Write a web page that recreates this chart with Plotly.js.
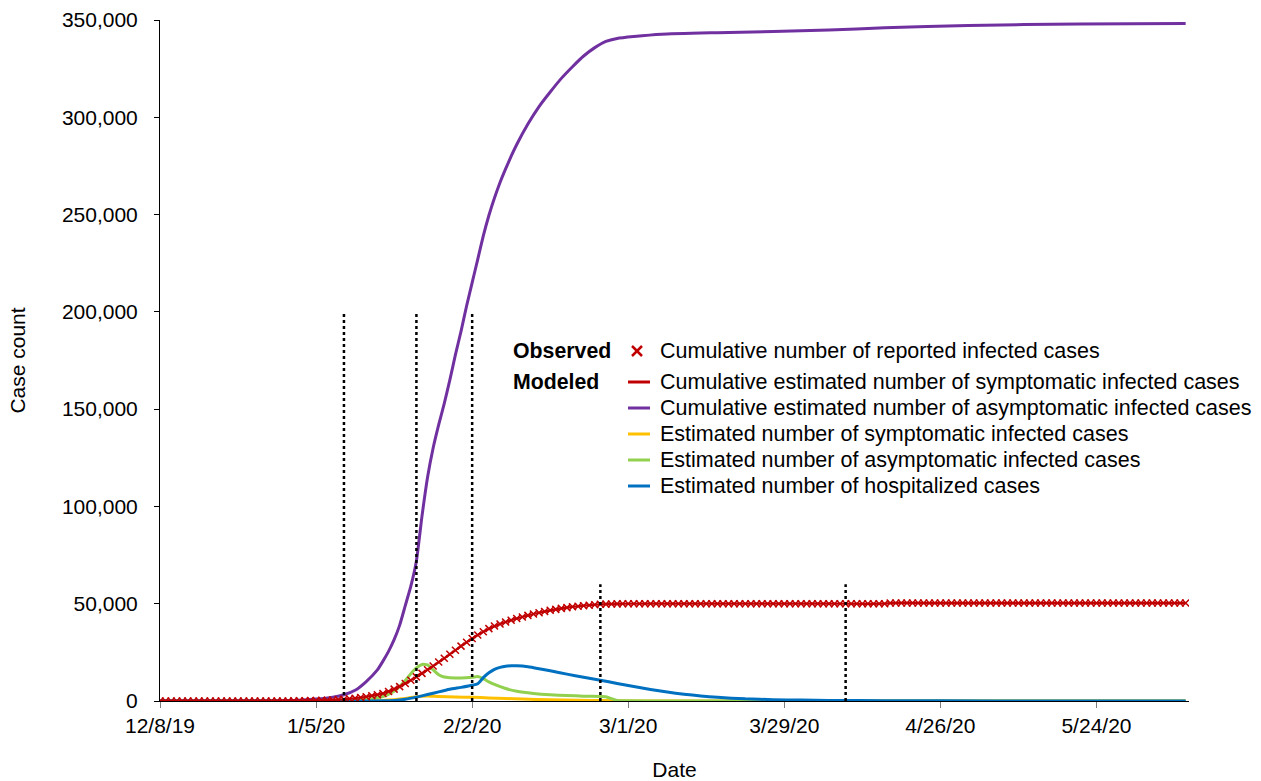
<!DOCTYPE html>
<html>
<head>
<meta charset="utf-8">
<script src="https://cdn.plot.ly/plotly-3.0.1.min.js"></script>
<style>html,body{margin:0;padding:0;background:#fff;}#chart{width:1261px;height:781px;}</style>
</head>
<body>
<div id="chart"></div>
<script>
// ---------- data ----------
const startDate = '2019-12-08';
const xTickStart = '2019-12-08';

// Observed: cumulative number of reported infected cases (daily, from 12/8/19)
const observedCases = [
  0,0,0,0,0,0,0,0,0,0,
  0,0,0,0,0,0,0,0,0,0,
  5,10,20,35,55,80,120,180,250,330,
  420,540,700,900,1150,1450,1800,2200,2700,3250,
  3900,4900,6100,7400,9000,10700,12400,14200,16100,18000,
  20000,22000,24000,26100,28200,30200,32100,33900,35600,37200,
  38500,39600,40600,41500,42400,43200,44000,44700,45400,46000,
  46600,47100,47600,48000,48400,48700,49000,49250,49500,49700,
  49800,49880,49930,49960,49980,49990,50000,50000,50000,50000,
  50000,50000,50000,50000,50000,50000,50000,50000,50000,50000,
  50000,50000,50000,50000,50000,50000,50000,50000,50000,50000,
  50000,50000,50000,50000,50000,50000,50000,50000,50000,50000,
  50000,50000,50000,50000,50000,50000,50000,50000,50000,50000,
  50008,50333,50333,50333,50333,50333,50333,50333,50333,50333,
  50333,50333,50333,50333,50333,50333,50333,50333,50333,50333,
  50333,50333,50333,50333,50333,50333,50333,50333,50333,50333,
  50333,50333,50333,50333,50333,50333,50333,50333,50333,50333,
  50333,50333,50333,50333,50333,50333,50333,50333,50333,50333,
  50333,50333,50333,50333,50333
];

// Modeled series: day offsets from 12/8/19 and values
const symCumDays = [0,15,20,25,28,31,34,37,40,43,46,49,52,55,58,61,64,67,70,73,76,79,82,85,90,100,120,130,131,140,160,184];
const symCumVals = [0,0,5,80,250,540,1150,2200,3900,7400,12400,18000,24000,30200,35600,39600,42400,44700,46600,48000,49000,49700,49930,49990,50000,50000,50000,50008,50333,50333,50333,50333];

const asymCumDays = [0,15,20,24,28,31,33,35,37,39,40,41,42,43,44,45,46,47,48,49,50,51,52,53,54,55,56,57,58,59,60,61,62,63,64,66,68,70,72,74,76,78,80,82,85,90,100,120,130,145,165,184];
const asymCumVals = [0,0,50,300,1000,2000,3200,5500,10000,16000,20500,25500,31500,39000,49000,59000,72000,95000,115000,130000,142000,153000,165000,178000,190000,203000,215000,227000,239000,249500,258500,266500,273500,280000,286000,296500,305500,313000,320000,326000,331500,335800,339000,340500,341500,342700,343500,344800,346000,347200,348000,348200];

const symDays = [0,35,38,40,42,44,46,47,48,50,53,56,59,62,65,70,75,80,84,90,184];
const symVals = [0,0,100,300,700,1300,2200,2500,2600,2300,2000,1900,1600,1300,1000,650,400,200,60,10,0];

const asymDays = [0,25,30,33,36,38,40,42,43,44,45,46,47,48,49,50,51,52,54,56,57,58,59,60,62,64,67,70,73,76,79,80,81,82,84,90,110,184];
const asymVals = [0,0,100,250,600,1200,2300,5000,7500,10500,14000,17000,18800,18600,16000,13500,12300,12000,11800,12200,12600,11500,9800,8500,6400,5000,3900,3200,2800,2500,2300,2200,1200,300,100,50,10,0];

const hospDays = [0,35,40,42,44,46,48,50,52,54,56,57,58,59,60,61,62,63,64,66,68,70,73,76,79,82,85,88,91,94,97,100,105,110,115,120,130,150,184];
const hospVals = [0,0,100,300,900,2000,3300,4700,6000,7000,8100,8900,12000,14500,16300,17300,17900,18100,18100,17600,16600,15500,13800,12200,10700,9000,7400,5900,4600,3500,2600,1900,1100,700,450,300,150,50,10];

// Vertical reference lines (dates and heights)
const refLineDays = [33,46,56,79,123];
const refLineTops = [200000,200000,200000,60000,60000];

const xEndDay = 184.6;

// Legend texts
const groupLabels = ['Observed', 'Modeled'];
const seriesLabels = [
  'Cumulative number of reported infected cases',
  'Cumulative estimated number of symptomatic infected cases',
  'Cumulative estimated number of asymptomatic infected cases',
  'Estimated number of symptomatic infected cases',
  'Estimated number of asymptomatic infected cases',
  'Estimated number of hospitalized cases'
];

// ---------- helpers ----------
const t0 = new Date(startDate + 'T00:00:00Z').getTime();
function dayToDate(d){
  const dt = new Date(t0 + d*86400000);
  return dt.toISOString().slice(0,19).replace('T',' ');
}
const obsDates = observedCases.map((_, i) => dayToDate(i));

const FONT = 'Liberation Sans, Arial, sans-serif';
const C_RED = '#C00000', C_PURPLE = '#7030A0', C_YEL = '#FFC000', C_GRN = '#92D050', C_BLUE = '#0070C0';
const seriesColors = [C_RED, C_RED, C_PURPLE, C_YEL, C_GRN, C_BLUE];

function lineTrace(days, vals, name, color, w){
  return {x: days.map(dayToDate), y: vals, type: 'scatter', mode: 'lines', name: name,
    line: {color: color, width: w || 3, shape: 'spline', smoothing: 0.5}, hoverinfo: 'skip'};
}

const traces = [
  lineTrace(symDays, symVals, seriesLabels[3], C_YEL),
  lineTrace(asymDays, asymVals, seriesLabels[4], C_GRN),
  lineTrace(hospDays, hospVals, seriesLabels[5], C_BLUE),
  lineTrace(asymCumDays, asymCumVals, seriesLabels[2], C_PURPLE),
  lineTrace(symCumDays, symCumVals, seriesLabels[1], C_RED, 2.2),
  {x: obsDates, y: observedCases, type: 'scatter', mode: 'markers', name: seriesLabels[0],
   marker: {symbol: 'x-thin', size: 7, color: C_RED, line: {color: C_RED, width: 1.5}},
   hoverinfo: 'skip'}
];

const shapes = refLineDays.map((d, i) => ({
  type: 'line', xref: 'x', yref: 'y', x0: dayToDate(d), x1: dayToDate(d), y0: 0, y1: refLineTops[i],
  line: {color: '#000', width: 2.5, dash: 'dot'}, layer: 'above'
}));

// ---------- manual legend (pixel layout converted to paper coords) ----------
const plotL = 160, plotW = 1029, plotB = 701, plotH = 681;
const px = v => (v - plotL) / plotW;
const py = v => (plotB - v) / plotH;
const rowY = [351, 382, 408, 434, 460, 486];
const annotations = [];
annotations.push({text: '<b>' + groupLabels[0] + '</b>', xref: 'paper', yref: 'paper', x: px(511), y: py(rowY[0]),
  xanchor: 'left', yanchor: 'middle', showarrow: false, font: {family: FONT, size: 21.3, color: '#000'}});
annotations.push({text: '<b>' + groupLabels[1] + '</b>', xref: 'paper', yref: 'paper', x: px(511), y: py(rowY[1]),
  xanchor: 'left', yanchor: 'middle', showarrow: false, font: {family: FONT, size: 21.3, color: '#000'}});
seriesLabels.forEach((lab, i) => {
  annotations.push({text: lab, xref: 'paper', yref: 'paper', x: px(658), y: py(rowY[i]),
    xanchor: 'left', yanchor: 'middle', showarrow: false, font: {family: FONT, size: 21.5, color: '#000'}});
  if (i === 0) {
    shapes.push({type: 'line', xref: 'paper', yref: 'paper', x0: px(632), x1: px(642), y0: py(rowY[i]-5), y1: py(rowY[i]+5), line: {color: C_RED, width: 2.5}});
    shapes.push({type: 'line', xref: 'paper', yref: 'paper', x0: px(632), x1: px(642), y0: py(rowY[i]+5), y1: py(rowY[i]-5), line: {color: C_RED, width: 2.5}});
  } else {
    shapes.push({type: 'line', xref: 'paper', yref: 'paper', x0: px(628), x1: px(650), y0: py(rowY[i]), y1: py(rowY[i]), line: {color: seriesColors[i], width: 3}});
  }
});

const layout = {
  width: 1261, height: 781,
  margin: {l: 160, r: 72, t: 20, b: 80},
  paper_bgcolor: '#fff', plot_bgcolor: '#fff',
  font: {family: FONT, size: 21, color: '#000'},
  showlegend: false,
  xaxis: {
    type: 'date', range: [dayToDate(0), dayToDate(xEndDay)],
    tick0: xTickStart, dtick: 28*86400000, tickformat: '%-m/%-d/%y',
    showgrid: false, zeroline: false, showline: true, linecolor: '#000', linewidth: 1,
    ticks: 'outside', ticklen: 6, tickcolor: '#808080',
    tickfont: {family: FONT, size: 21, color: '#000'},
    title: {text: 'Date', font: {family: FONT, size: 21, color: '#000'}, standoff: 32}
  },
  yaxis: {
    range: [0, 350000], dtick: 50000, tickformat: ',d',
    showgrid: false, zeroline: false, showline: true, linecolor: '#000', linewidth: 1,
    ticks: 'outside', ticklen: 5, tickcolor: '#000', ticklabelstandoff: 12,
    tickfont: {family: FONT, size: 21, color: '#000'},
    title: {text: 'Case count', font: {family: FONT, size: 21, color: '#000'}, standoff: 30}
  },
  shapes: shapes,
  annotations: annotations
};

Plotly.newPlot('chart', traces, layout, {staticPlot: true, displayModeBar: false});
</script>
</body>
</html>
